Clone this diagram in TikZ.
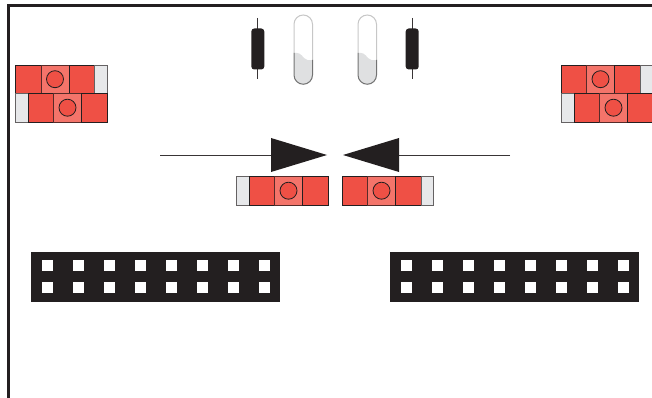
\documentclass[tikz,border=0pt]{standalone}
\definecolor{brickred}{HTML}{EF5045}
\definecolor{bricklight}{HTML}{F4746A}
\definecolor{brickgrey}{HTML}{E7E8EA}
\definecolor{inkdark}{HTML}{231F20}
\definecolor{tubegrey}{HTML}{DFE0E1}
\tikzset{
  cellred/.style={draw=inkdark,line width=.9pt,fill=brickred},
  celllight/.style={draw=inkdark!75!brickred,line width=.9pt,fill=bricklight},
  cellgrey/.style={draw=inkdark!70,line width=.9pt,fill=brickgrey},
  holdot/.style={draw=inkdark,line width=.8pt,fill=brickred},
  framestroke/.style={draw=inkdark,line width=2.4pt},
  leadline/.style={draw=inkdark!90,line width=.9pt},
  pointer/.style={fill=inkdark,draw=none},
  pinhole/.style={fill=white,draw=none},
  headerbar/.style={fill=inkdark,draw=none},
  bodyblack/.style={fill=inkdark,draw=none,rounded corners=3pt},
  tubeedge/.style={draw=black!22,line width=1pt},
  tubebase/.style={draw=none,fill=tubegrey},
  tubeline/.style={draw=black!55,line width=1pt}
}
% #1 = first x, #2 = top y; grey end on the right
\newcommand{\brickR}[2]{%
  \path[cellred] (#1,#2) rectangle ++(25.5,28.5);
  \path[celllight] (#1+25.5,#2) rectangle ++(28,28.5);
  \path[cellred] (#1+53.5,#2) rectangle ++(25.5,28.5);
  \path[cellgrey] (#1+79,#2) rectangle ++(12.5,28.5);
  \path[holdot] (#1+39.5,#2+14.2) circle (8.5);
}
% grey end on the left
\newcommand{\brickL}[2]{%
  \path[cellgrey] (#1,#2) rectangle ++(12.5,28.5);
  \path[cellred] (#1+12.5,#2) rectangle ++(25.5,28.5);
  \path[celllight] (#1+38,#2) rectangle ++(28,28.5);
  \path[cellred] (#1+66,#2) rectangle ++(25.5,28.5);
  \path[holdot] (#1+52,#2+14.2) circle (8.5);
}
\newcommand{\headerrow}[1]{%
  \path[headerbar] (#1,252) rectangle ++(249,50);
  \foreach \k in {0,...,7}{
    \path[pinhole] (#1+10.7+31*\k,260.2) rectangle ++(11,11);
    \path[pinhole] (#1+10.7+31*\k,282.2) rectangle ++(11,11);
  }
}
\newcommand{\resistor}[1]{%
  \path[leadline] (#1,18) -- (#1,79);
  \path[bodyblack] (#1-6.5,28.5) rectangle (#1+6.5,69.5);
}
% #1 = left x
\newcommand{\tube}[1]{%
  \path[tubebase] (#1,53) .. controls (#1+4,52) and (#1+7,54) .. (#1+10,58)
     .. controls (#1+12,60.5) and (#1+15,60.5) .. (#1+18.5,60)
     -- (#1+18.5,75) arc[start angle=0,end angle=180,radius=9.25] -- cycle;
  \path[tubeedge] (#1,53) -- (#1,24.25) arc[start angle=180,end angle=360,radius=9.25] -- (#1+18.5,60);
  \path[tubeline] (#1,53) -- (#1,75) arc[start angle=180,end angle=0,radius=9.25] -- (#1+18.5,60);
}
\begin{document}
\begin{tikzpicture}[x=1pt,y=-1pt]
\useasboundingbox (0,0) rectangle (652,398);
\clip (0,0) rectangle (652,398);
\path[framestroke] (8.5,398) -- (8.5,5.5) -- (652,5.5);

\resistor{257.8}
\resistor{412.2}
\tube{294}
\tube{358}

\brickR{15.5}{65}
\brickL{15.5}{93.5}
\brickR{561}{65}
\brickL{561.5}{93.5}

\coordinate (leftend) at (160,155);
\coordinate (rightend) at (510,155);
\coordinate (ltip) at (271,155);
\coordinate (rtip) at (399,155);
\path[leadline] (leftend) -- (ltip);
\path[leadline] (rightend) -- (rtip);
\path[pointer] (271,138) -- (327,155) -- (271,172) -- cycle;
\path[pointer] (399,138) -- (343,155) -- (399,172) -- cycle;

\brickL{236.5}{176.5}
\brickR{342}{176.5}

\headerrow{31}
\headerrow{390}
\end{tikzpicture}
\end{document}
